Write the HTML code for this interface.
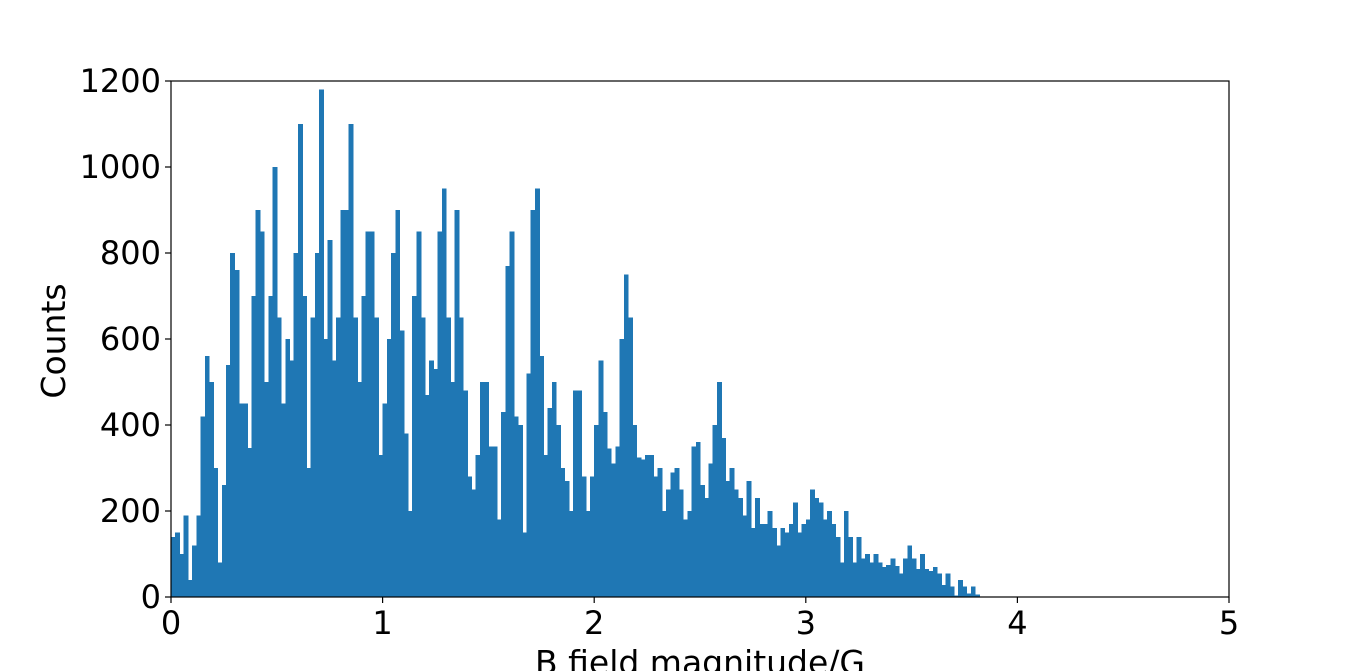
<!DOCTYPE html>
<html>
<head>
<meta charset="utf-8">
<style>
  html, body { margin:0; padding:0; background:#fff; }
  svg { display:block; font-family:"DejaVu Sans","Liberation Sans",sans-serif; }
</style>
</head>
<body>
<svg id="chart" width="1366" height="671" viewBox="0 0 1366 671" xmlns="http://www.w3.org/2000/svg">
  <rect width="1366" height="671" fill="#fff"/>
  <g id="bars" shape-rendering="crispEdges"></g>
  <g id="axes"></g>
  <text x="700" y="674" text-anchor="middle" font-size="33">B field magnitude/G</text>
  <text x="0" y="0" transform="translate(65,341) rotate(-90)" text-anchor="middle" font-size="33">Counts</text>
</svg>
<script>
const binWidth = 0.02;
const counts = [
  140,150,100,190,40,120,190,420,560,500,300,80,260,540,800,760,450,450,346,700,
  900,850,500,700,1000,650,450,600,550,800,1100,700,300,650,800,1180,600,830,550,650,
  900,900,1100,650,500,700,850,850,
  650,330,450,600,800,900,620,380,200,700,850,650,470,550,530,850,950,650,500,900,
  650,480,280,250,330,500,500,350,350,180,430,770,850,420,400,150,520,900,950,560,
  330,440,500,400,300,270,200,480,
  480,280,200,280,400,550,430,345,310,350,600,750,650,400,325,320,330,330,280,300,
  200,250,290,300,250,180,200,350,360,260,230,310,400,500,370,270,300,250,230,190,
  270,160,230,170,170,200,160,120,160,
  150,170,220,150,170,180,250,230,220,180,200,170,140,80,200,140,80,140,90,100,
  80,100,80,70,75,90,72,55,90,120,90,65,100,65,60,70,55,28,55,25,3,40,25,8,24,6
];
const xTicks = [0,1,2,3,4,5];
const yTicks = [0,200,400,600,800,1000,1200];

const L=171, R=1229, T=81, B=597;
const xMin=0, xMax=5, yMin=0, yMax=1200;
const xs = v => L + (v-xMin)/(xMax-xMin)*(R-L);
const ys = v => B - (v-yMin)/(yMax-yMin)*(B-T);
const NS = "http://www.w3.org/2000/svg";
const bars = document.getElementById('bars');
const axes = document.getElementById('axes');

counts.forEach((c,i)=>{
  const x0 = xs(i*binWidth), x1 = xs((i+1)*binWidth);
  const top = ys(Math.min(c,yMax));
  const r = document.createElementNS(NS,'rect');
  r.setAttribute('x', x0);
  r.setAttribute('y', top);
  r.setAttribute('width', x1-x0+0.6);
  r.setAttribute('height', B-top);
  r.setAttribute('fill', '#1f77b4');
  
  
  bars.appendChild(r);
});

const frame = document.createElementNS(NS,'rect');
frame.setAttribute('x',L); frame.setAttribute('y',T);
frame.setAttribute('width',R-L); frame.setAttribute('height',B-T);
frame.setAttribute('fill','none'); frame.setAttribute('stroke','#000'); frame.setAttribute('stroke-width','1.2');


axes.appendChild(frame);

xTicks.forEach(t=>{
  const x = xs(t);
  const ln = document.createElementNS(NS,'line');
  ln.setAttribute('x1',x); ln.setAttribute('x2',x); ln.setAttribute('y1',B); ln.setAttribute('y2',B+6);
  ln.setAttribute('stroke','#000'); ln.setAttribute('stroke-width','1.2');
  
  
  axes.appendChild(ln);
  const tx = document.createElementNS(NS,'text');
  tx.setAttribute('x',x); tx.setAttribute('y',634);
  tx.setAttribute('text-anchor','middle'); tx.setAttribute('font-size','32');
  tx.textContent = t;
  
  
  axes.appendChild(tx);
});
yTicks.forEach(t=>{
  const y = ys(t);
  const ln = document.createElementNS(NS,'line');
  ln.setAttribute('x1',L-6); ln.setAttribute('x2',L); ln.setAttribute('y1',y); ln.setAttribute('y2',y);
  ln.setAttribute('stroke','#000'); ln.setAttribute('stroke-width','1.2');
  
  
  axes.appendChild(ln);
  const tx = document.createElementNS(NS,'text');
  tx.setAttribute('x',L-10); tx.setAttribute('y',y+11);
  tx.setAttribute('text-anchor','end'); tx.setAttribute('font-size','32');
  tx.textContent = t;
  
  
  axes.appendChild(tx);
});
</script>
</body>
</html>
